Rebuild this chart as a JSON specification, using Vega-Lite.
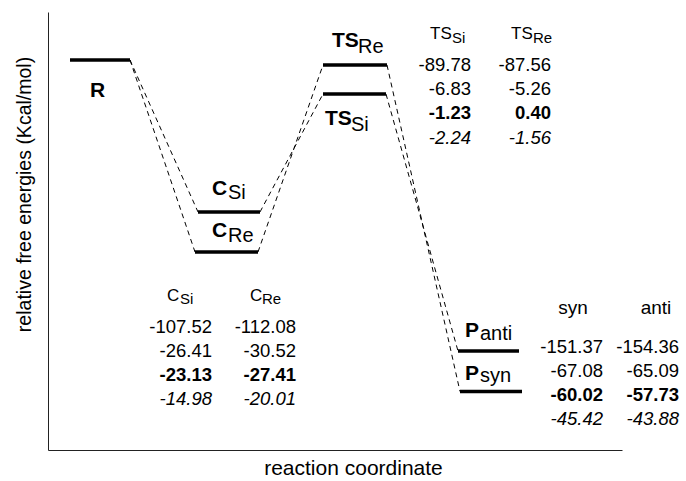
{
  "$schema": "https://vega.github.io/schema/vega-lite/v6.json",
  "width": 574,
  "height": 438,
  "autosize": "none",
  "padding": {"left": 48, "top": 12, "right": 64, "bottom": 31},
  "background": "white",
  "config": {
    "view": {"stroke": null},
    "font": "Liberation Sans",
    "text": {"font": "Liberation Sans", "color": "black"}
  },
  "datasets": {
    "levels": [
      {"n": "R", "x1": 22, "x2": 82, "y": 0},
      {"n": "CSi", "x1": 150, "x2": 212, "y": -25.33},
      {"n": "CRe", "x1": 147, "x2": 210, "y": -32},
      {"n": "TSRe", "x1": 275, "x2": 339, "y": -0.83},
      {"n": "TSSi", "x1": 275, "x2": 338, "y": -5.67},
      {"n": "Panti", "x1": 410, "x2": 471, "y": -48.5},
      {"n": "Psyn", "x1": 412, "x2": 474, "y": -55.25}
    ],
    "links": [
      {"link": "L1", "o": 1, "x": 82, "y": 0},
      {"link": "L1", "o": 2, "x": 150, "y": -25.33},
      {"link": "L2", "o": 1, "x": 82, "y": 0},
      {"link": "L2", "o": 2, "x": 147, "y": -32},
      {"link": "L3", "o": 1, "x": 212, "y": -25.33},
      {"link": "L3", "o": 2, "x": 275, "y": -5.67},
      {"link": "L4", "o": 1, "x": 210, "y": -32},
      {"link": "L4", "o": 2, "x": 275, "y": -0.83},
      {"link": "L5", "o": 1, "x": 339, "y": -0.83},
      {"link": "L5", "o": 2, "x": 412, "y": -55.25},
      {"link": "L6", "o": 1, "x": 338, "y": -5.67},
      {"link": "L6", "o": 2, "x": 410, "y": -48.5}
    ],
    "mainLabels": [
      {"t": "R", "x": 42, "y": -6.17},
      {"t": "C", "x": 164, "y": -22.5},
      {"t": "C", "x": 164, "y": -29.5},
      {"t": "TS", "x": 284, "y": 2.17},
      {"t": "TS", "x": 277, "y": -10.83},
      {"t": "P", "x": 417, "y": -46.17},
      {"t": "P", "x": 417, "y": -53.33}
    ],
    "subLabels": [
      {"t": "Si", "x": 180, "y": -23.17},
      {"t": "Re", "x": 180, "y": -30.33},
      {"t": "Re", "x": 310, "y": 1.17},
      {"t": "Si", "x": 303, "y": -11.83},
      {"t": "anti", "x": 432, "y": -46.67},
      {"t": "syn", "x": 432, "y": -53.67}
    ],
    "headMain": [
      {"t": "TS", "x": 382, "y": 3.42},
      {"t": "TS", "x": 463, "y": 3.42},
      {"t": "C", "x": 119, "y": -40.17},
      {"t": "C", "x": 202, "y": -40.17}
    ],
    "headSub": [
      {"t": "Si", "x": 404, "y": 2.78},
      {"t": "Re", "x": 485, "y": 2.78},
      {"t": "Si", "x": 132, "y": -40.67},
      {"t": "Re", "x": 214, "y": -40.67}
    ],
    "headPlain": [
      {"t": "syn", "x": 525, "y": -42.33},
      {"t": "anti", "x": 608, "y": -42.33}
    ],
    "table": [
      {"t": "-89.78", "x": 423, "y": -1.75, "k": "plain"},
      {"t": "-6.83", "x": 423, "y": -5.83, "k": "plain"},
      {"t": "-1.23", "x": 423, "y": -9.83, "k": "bold"},
      {"t": "-2.24", "x": 423, "y": -14, "k": "italic"},
      {"t": "-87.56", "x": 503, "y": -1.75, "k": "plain"},
      {"t": "-5.26", "x": 503, "y": -5.83, "k": "plain"},
      {"t": "0.40", "x": 503, "y": -9.83, "k": "bold"},
      {"t": "-1.56", "x": 503, "y": -14, "k": "italic"},
      {"t": "-107.52", "x": 164, "y": -45.5, "k": "plain"},
      {"t": "-26.41", "x": 164, "y": -49.5, "k": "plain"},
      {"t": "-23.13", "x": 164, "y": -53.5, "k": "bold"},
      {"t": "-14.98", "x": 164, "y": -57.5, "k": "italic"},
      {"t": "-112.08", "x": 248, "y": -45.5, "k": "plain"},
      {"t": "-30.52", "x": 248, "y": -49.5, "k": "plain"},
      {"t": "-27.41", "x": 248, "y": -53.5, "k": "bold"},
      {"t": "-20.01", "x": 248, "y": -57.5, "k": "italic"},
      {"t": "-151.37", "x": 555, "y": -48.78, "k": "plain"},
      {"t": "-67.08", "x": 555, "y": -52.83, "k": "plain"},
      {"t": "-60.02", "x": 555, "y": -56.83, "k": "bold"},
      {"t": "-45.42", "x": 555, "y": -60.83, "k": "italic"},
      {"t": "-154.36", "x": 631, "y": -48.78, "k": "plain"},
      {"t": "-65.09", "x": 631, "y": -52.83, "k": "plain"},
      {"t": "-57.73", "x": 631, "y": -56.83, "k": "bold"},
      {"t": "-43.88", "x": 631, "y": -60.83, "k": "italic"}
    ]
  },
  "layer": [
    {
      "data": {"name": "levels"},
      "mark": {"type": "rule", "strokeWidth": 3.5, "color": "black", "strokeCap": "butt"},
      "encoding": {
        "x": {"field": "x1", "type": "quantitative",
              "scale": {"domain": [0, 574], "nice": false, "zero": false},
              "axis": {"title": "reaction coordinate", "ticks": false, "labels": false, "grid": false,
                       "domainColor": "#222", "domainWidth": 1,
                       "titleFont": "Liberation Sans", "titleFontSize": 21, "titleFontWeight": "normal",
                       "titleColor": "black", "titleBaseline": "alphabetic", "titleX": 305, "titleY": 24}},
        "x2": {"field": "x2"},
        "y": {"field": "y", "type": "quantitative",
              "scale": {"domain": [-65, 8], "nice": false, "zero": false},
              "axis": {"title": "relative free energies (Kcal/mol)", "ticks": false, "labels": false, "grid": false,
                       "domainColor": "#222", "domainWidth": 1,
                       "titleFont": "Liberation Sans", "titleFontSize": 19.5, "titleFontWeight": "normal",
                       "titleColor": "black", "titleAngle": -90, "titleBaseline": "middle", "titleAlign": "center",
                       "titleX": -24, "titleY": 182}}
      }
    },
    {
      "data": {"name": "links"},
      "mark": {"type": "line", "strokeWidth": 1, "color": "black", "strokeDash": [5, 4]},
      "encoding": {
        "x": {"field": "x", "type": "quantitative"},
        "y": {"field": "y", "type": "quantitative"},
        "detail": {"field": "link"},
        "order": {"field": "o"}
      }
    },
    {
      "data": {"name": "mainLabels"},
      "mark": {"type": "text", "fontSize": 21, "fontWeight": "bold", "align": "left", "baseline": "alphabetic"},
      "encoding": {
        "x": {"field": "x", "type": "quantitative"},
        "y": {"field": "y", "type": "quantitative"},
        "text": {"field": "t"}
      }
    },
    {
      "data": {"name": "subLabels"},
      "mark": {"type": "text", "fontSize": 20, "align": "left", "baseline": "alphabetic"},
      "encoding": {
        "x": {"field": "x", "type": "quantitative"},
        "y": {"field": "y", "type": "quantitative"},
        "text": {"field": "t"}
      }
    },
    {
      "data": {"name": "headMain"},
      "mark": {"type": "text", "fontSize": 17, "align": "left", "baseline": "alphabetic"},
      "encoding": {
        "x": {"field": "x", "type": "quantitative"},
        "y": {"field": "y", "type": "quantitative"},
        "text": {"field": "t"}
      }
    },
    {
      "data": {"name": "headSub"},
      "mark": {"type": "text", "fontSize": 15, "align": "left", "baseline": "alphabetic"},
      "encoding": {
        "x": {"field": "x", "type": "quantitative"},
        "y": {"field": "y", "type": "quantitative"},
        "text": {"field": "t"}
      }
    },
    {
      "data": {"name": "headPlain"},
      "mark": {"type": "text", "fontSize": 19, "align": "center", "baseline": "alphabetic"},
      "encoding": {
        "x": {"field": "x", "type": "quantitative"},
        "y": {"field": "y", "type": "quantitative"},
        "text": {"field": "t"}
      }
    },
    {
      "data": {"name": "table"},
      "transform": [{"filter": "datum.k == 'plain'"}],
      "mark": {"type": "text", "fontSize": 18.5, "align": "right", "baseline": "alphabetic"},
      "encoding": {
        "x": {"field": "x", "type": "quantitative"},
        "y": {"field": "y", "type": "quantitative"},
        "text": {"field": "t"}
      }
    },
    {
      "data": {"name": "table"},
      "transform": [{"filter": "datum.k == 'bold'"}],
      "mark": {"type": "text", "fontSize": 18.5, "fontWeight": "bold", "align": "right", "baseline": "alphabetic"},
      "encoding": {
        "x": {"field": "x", "type": "quantitative"},
        "y": {"field": "y", "type": "quantitative"},
        "text": {"field": "t"}
      }
    },
    {
      "data": {"name": "table"},
      "transform": [{"filter": "datum.k == 'italic'"}],
      "mark": {"type": "text", "fontSize": 18.5, "fontStyle": "italic", "align": "right", "baseline": "alphabetic"},
      "encoding": {
        "x": {"field": "x", "type": "quantitative"},
        "y": {"field": "y", "type": "quantitative"},
        "text": {"field": "t"}
      }
    }
  ]
}
